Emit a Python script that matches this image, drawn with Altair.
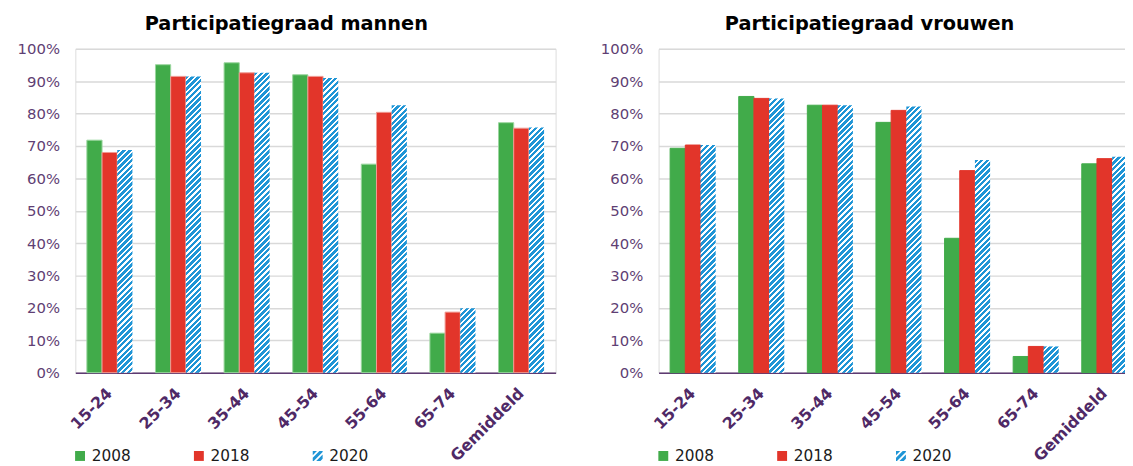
import altair as alt

categories = ["15-24", "25-34", "35-44", "45-54", "55-64", "65-74", "Gemiddeld"]
years = ["2008", "2018", "2020"]

men_2008 = [71.8, 95.1, 95.7, 92.0, 64.4, 12.2, 77.2]
men_2018 = [68.0, 91.5, 92.6, 91.5, 80.4, 18.7, 75.5]
men_2020 = [68.8, 91.5, 92.6, 91.0, 82.6, 19.9, 75.7]

women_2008 = [69.3, 85.3, 82.6, 77.3, 41.5, 5.0, 64.5]
women_2018 = [70.3, 84.7, 82.6, 81.0, 62.4, 8.1, 66.1]
women_2020 = [70.3, 84.7, 82.6, 82.2, 65.7, 8.1, 66.7]

y_ticks = [0, 0.1, 0.2, 0.3, 0.4, 0.5, 0.6, 0.7, 0.8, 0.9, 1.0]

# ---- styling constants ----
FONT = "DejaVu Sans"
GREEN, RED, BLUE = "#41ab4a", "#e2352a", "#1f95d6"
GREEN_EDGE, RED_EDGE = "#9ad69e", "#f09a92"
PLOT_W, PLOT_H = 485, 327
PAD_IN, PAD_OUT = 0.336, 0.168
STEP = PLOT_W / (len(categories) - PAD_IN + 2 * PAD_OUT)
BAR_W = STEP * (1 - PAD_IN) / 3
STRIPE = 5.8  # stripe period (px, along x)


def hatch(h):
    """Diagonal blue/white stripe gradient sized to a bar of height h px."""
    w = BAR_W
    h = max(h, 1.0)
    k = (w + h) / (w * w + h * h)
    n = max(1, round((w + h) / STRIPE))
    stops = []
    for i in range(n):
        a = i / n
        b = (i + 0.6) / n
        c = (i + 1) / n
        stops += [
            {"offset": a, "color": BLUE},
            {"offset": b, "color": BLUE},
            {"offset": b, "color": "#ffffff"},
            {"offset": c, "color": "#ffffff"},
        ]
    return {"gradient": "linear", "x1": 0, "y1": 0, "x2": w * k, "y2": h * k, "stops": stops}


def clip_band(a, b):
    """Polygon of square [-1,1]^2 with a <= x+y <= b."""
    poly = [(-1, -1), (1, -1), (1, 1), (-1, 1)]

    def clip(pts, f):
        out = []
        for i in range(len(pts)):
            p, q = pts[i], pts[(i + 1) % len(pts)]
            fp, fq = f(p), f(q)
            if fp >= 0:
                out.append(p)
            if (fp >= 0) != (fq >= 0):
                t = fp / (fp - fq)
                out.append((p[0] + t * (q[0] - p[0]), p[1] + t * (q[1] - p[1])))
        return out

    poly = clip(poly, lambda p: p[0] + p[1] - a)
    poly = clip(poly, lambda p: b - (p[0] + p[1]))
    if len(poly) < 3:
        return ""
    return "M" + "L".join(f"{x:.3f},{y:.3f}" for x, y in poly) + "Z"


stripe_path = "".join(clip_band(a, a + 0.85) for a in [-2.0, -0.65, 0.7, 2.05])
shape_range = ["square", "square", stripe_path]


def records(v08, v18, v20, edges):
    rows = []
    for i, c in enumerate(categories):
        for y, vals in zip(years, [v08, v18, v20]):
            v = vals[i] / 100.0
            if y == "2008":
                fill, stroke = GREEN, (GREEN_EDGE if edges else GREEN)
            elif y == "2018":
                fill, stroke = RED, (RED_EDGE if edges else RED)
            else:
                fill, stroke = hatch(v * PLOT_H), "transparent"
            rows.append({"cat": c, "year": y, "value": v, "fill": fill, "stroke": stroke})
    return rows


def legend():
    return alt.Legend(
        title=None, orient="none", legendX=-3, legendY=403, direction="horizontal",
        labelFont=FONT, labelFontSize=15.5, labelColor="#1a1a1a", symbolSize=100,
        symbolOpacity=1, symbolStrokeWidth=0, labelOffset=4, columnPadding=61,
    )


def panel(title, rows):
    base = alt.Chart(alt.Data(values=rows))
    x = alt.X(
        "cat:N",
        sort=categories,
        scale=alt.Scale(paddingInner=PAD_IN, paddingOuter=PAD_OUT),
        axis=alt.Axis(
            title=None, labelAngle=-45, labelAlign="right", labelBaseline="middle",
            labelFont=FONT, labelFontSize=16, labelFontWeight="bold", labelColor="#4f2966",
            labelPadding=18, labelOffset=0, ticks=False, grid=False,
            domainColor="#5e3a72", domainWidth=1.5, labelOverlap=False,
        ),
    )
    xo = alt.XOffset("year:N", sort=years)
    y = alt.Y(
        "value:Q",
        scale=alt.Scale(domain=[0, 1], nice=False),
        axis=alt.Axis(
            title=None, values=y_ticks, format=".0%", labelFont=FONT, labelFontSize=15,
            labelColor="#5f3f74", labelPadding=16, ticks=False, domain=False,
            grid=True, gridColor="#d9d9d9", gridWidth=1.5,
        ),
    )
    bars = base.mark_bar(strokeWidth=1).encode(
        x=x, xOffset=xo, y=y,
        fill=alt.Fill("fill:N", scale=None),
        stroke=alt.Stroke("stroke:N", scale=None),
    )
    keys = base.mark_point(filled=True, opacity=0).encode(
        x=x, xOffset=xo, y=y,
        color=alt.Color(
            "year:N", sort=years,
            scale=alt.Scale(domain=years, range=[GREEN, RED, BLUE]),
            legend=legend(),
        ),
        shape=alt.Shape(
            "year:N", sort=years,
            scale=alt.Scale(domain=years, range=shape_range),
            legend=legend(),
        ),
    )
    return alt.layer(bars, keys).properties(
        width=PLOT_W,
        height=PLOT_H,
        title=alt.TitleParams(
            text=title, font=FONT, fontSize=19.5, fontWeight="bold", color="#000000",
            frame="bounds", anchor="middle", offset=8,
        ),
    )


left = panel("Participatiegraad mannen", records(men_2008, men_2018, men_2020, True))
right = panel("Participatiegraad vrouwen", records(women_2008, women_2018, women_2020, False))

chart = (
    alt.hconcat(left, right, spacing=43)
    .resolve_scale(color="independent", shape="independent", x="independent", y="independent")
    .resolve_legend(color="independent", shape="independent")
    .properties(padding={"left": 8, "top": 3, "right": -15, "bottom": 0})
    .configure_view(stroke=None)
    .configure(background="white")
)

chart.save("out.html", embed_options={"renderer": "svg", "actions": False})
